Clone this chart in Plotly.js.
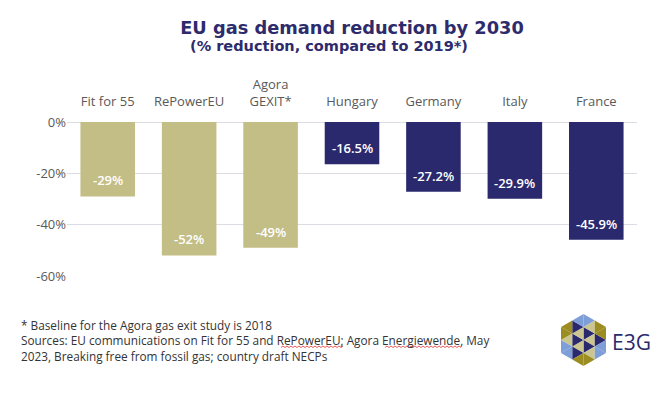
<!DOCTYPE html>
<html>
<head>
<meta charset="utf-8">
<script src="https://cdn.plot.ly/plotly-3.0.1.min.js"></script>
<style>
html,body{margin:0;padding:0;background:#fff;}
#chart{width:657px;height:394px;}
</style>
</head>
<body>
<div id="chart"></div>
<script>
// ---- Data ----
var categories = ["Fit for 55", "RePowerEU", "Agora<br>GEXIT*", "Hungary", "Germany", "Italy", "France"];
var values = [-29, -52, -49, -16.5, -27.2, -29.9, -45.9];
var valueLabels = ["-29%", "-52%", "-49%", "-16.5%", "-27.2%", "-29.9%", "-45.9%"];
var groups = ["eu", "eu", "eu", "country", "country", "country", "country"];
var yTickVals = [0, -20, -40, -60];
var yTickText = ["0%", "-20%", "-40%", "-60%"];
var footLines = [
  "* Baseline for the Agora gas exit study is 2018",
  "Sources: EU communications on Fit for 55 and RePowerEU; Agora Energiewende, May",
  "2023, Breaking free from fossil gas; country draft NECPs"
];

var colorMap = {eu: "#c3bd86", country: "#2a296d"};
var W = 657, H = 394;
var M = {l: 67, r: 20, t: 122, b: 118};
var PW = W - M.l - M.r, PH = H - M.t - M.b;
function px(x) { return (x - M.l) / PW; }
function py(y) { return 1 - (y - M.t) / PH; }

var trace = {
  type: "bar",
  x: categories,
  y: values,
  marker: {color: groups.map(function (g) { return colorMap[g]; })},
  width: 0.67,
  hoverinfo: "skip"
};

var annotations = values.map(function (v, i) {
  return {
    x: categories[i], y: v, xref: "x", yref: "y",
    text: valueLabels[i], showarrow: false, yshift: 16,
    font: {family: "Open Sans", size: 13, color: "#ffffff", weight: 600}
  };
});

// Title second line
annotations.push({
  xref: "paper", yref: "paper", x: px(328.5), y: py(46),
  xanchor: "center", yanchor: "middle", showarrow: false,
  text: "<b>(% reduction, compared to 2019*)</b>",
  font: {family: "DejaVu Sans", size: 14.5, color: "#2e2b6c"}
});

// Footnote (one block)
annotations.push({
  xref: "paper", yref: "paper", x: px(19), y: py(340),
  xanchor: "left", yanchor: "middle", align: "left", showarrow: false,
  text: footLines.join("<br>"),
  font: {family: "Open Sans", size: 11.8, color: "#333333"}
});
// Logo text
annotations.push({
  xref: "paper", yref: "paper", x: px(610), y: py(342),
  xanchor: "left", yanchor: "middle", showarrow: false, text: "E3G",
  font: {family: "Open Sans", size: 21, color: "#2a296d"}
});

var shapes = [];
// Spell-check squiggles seen under two footnote words
function squiggle(x0, x1, y) {
  var d = "M" + px(x0).toFixed(5) + "," + py(y).toFixed(5);
  var up = true;
  for (var x = x0 + 2; x <= x1; x += 2) {
    d += " L" + px(x).toFixed(5) + "," + py(up ? y - 1.5 : y).toFixed(5);
    up = !up;
  }
  shapes.push({type: "path", xref: "paper", yref: "paper", path: d,
    line: {color: "#e03030", width: 0.8}});
}
squiggle(281, 344, 347.5);
squiggle(385, 461, 347.5);

// Logo hexagon (decorative)
(function () {
  var cx = 583.5, cy = 340, r = 26;
  var V = [];
  for (var k = 0; k < 6; k++) {
    var a = (90 - 60 * k) * Math.PI / 180;
    V.push([cx + r * Math.cos(a), cy - r * Math.sin(a)]);
  }
  var C = [cx, cy];
  function mid(p, q) { return [(p[0] + q[0]) / 2, (p[1] + q[1]) / 2]; }
  function tri(a, b, c, col) {
    var pts = [a, b, c].map(function (p) { return px(p[0]).toFixed(5) + "," + py(p[1]).toFixed(5); });
    shapes.push({type: "path", xref: "paper", yref: "paper",
      path: "M" + pts[0] + " L" + pts[1] + " L" + pts[2] + " Z",
      fillcolor: col, line: {width: 0}});
  }
  var olive = "#9c8d22", blue = "#7d9ed6", navy = "#2a296d", beige = "#cbc690";
  var outerA = [blue, olive, blue, olive, blue, olive];
  var outerB = [olive, blue, olive, blue, olive, blue];
  var inner = [navy, beige, navy, beige, navy, beige];
  var midc = [beige, navy, beige, navy, beige, navy];
  for (var i = 0; i < 6; i++) {
    var A = V[i], B = V[(i + 1) % 6];
    var mCA = mid(C, A), mCB = mid(C, B), mAB = mid(A, B);
    tri(C, mCA, mCB, inner[i]);
    tri(mCA, mCB, mAB, midc[i]);
    tri(A, mCA, mAB, outerA[i]);
    tri(B, mCB, mAB, outerB[i]);
  }
})();

var layout = {
  width: W, height: H,
  margin: M,
  paper_bgcolor: "#ffffff",
  plot_bgcolor: "#ffffff",
  showlegend: false,
  font: {family: "Open Sans", color: "#595959"},
  title: {
    text: "<b>EU gas demand reduction by 2030</b>",
    font: {family: "DejaVu Sans", size: 17.8, color: "#2e2b6c"},
    x: 0.5, xref: "paper", xanchor: "center",
    y: 1 - 28 / 394, yref: "container", yanchor: "middle"
  },
  xaxis: {
    type: "category",
    side: "top",
    showgrid: false, zeroline: false, showline: false,
    ticks: "",
    ticklabelstandoff: 12,
    tickfont: {family: "Open Sans", size: 13, color: "#595959"},
    fixedrange: true
  },
  yaxis: {
    range: [-60, 0],
    tickvals: yTickVals,
    ticktext: yTickText,
    showgrid: true, gridcolor: "#dcdce4", gridwidth: 1,
    zeroline: true, zerolinecolor: "#dcdce4", zerolinewidth: 1,
    showline: false, ticks: "",
    tickfont: {family: "Open Sans", size: 13, color: "#595959"},
    fixedrange: true
  },
  bargap: 0.33,
  annotations: annotations,
  shapes: shapes
};

Plotly.newPlot("chart", [trace], layout, {displayModeBar: false, staticPlot: true});
</script>
</body>
</html>
